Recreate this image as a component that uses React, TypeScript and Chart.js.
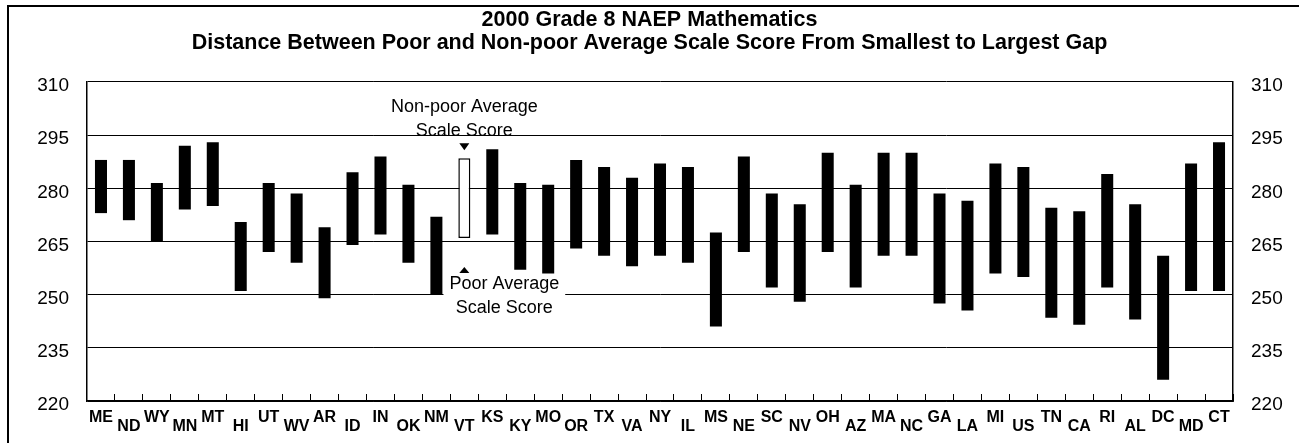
import React, { useEffect, useRef } from 'react';
import { Chart, registerables } from 'chart.js';

Chart.register(...registerables);

// ---- data ----
const states = [
  'ME', 'ND', 'WY', 'MN', 'MT', 'HI', 'UT', 'WV', 'AR', 'ID', 'IN', 'OK', 'NM', 'VT',
  'KS', 'KY', 'MO', 'OR', 'TX', 'VA', 'NY', 'IL', 'MS', 'NE', 'SC', 'NV', 'OH', 'AZ',
  'MA', 'NC', 'GA', 'LA', 'MI', 'US', 'TN', 'CA', 'RI', 'AL', 'DC', 'MD', 'CT',
];

const poorScores = [
  273, 271, 265, 274, 275, 251, 262, 259, 249, 264, 267, 259, 250, 266,
  267, 257, 256, 263, 261, 258, 261, 259, 241, 262, 252, 248, 262, 252,
  261, 261, 247.5, 245.5, 256, 255, 243.5, 241.5, 252, 243, 226, 251, 251,
];

const nonPoorScores = [
  288, 288, 281.5, 292, 293, 270.5, 281.5, 278.5, 269, 284.5, 289, 281, 272, 288.5,
  291, 281.5, 281, 288, 286, 283, 287, 286, 267.5, 289, 278.5, 275.5, 290, 281,
  290, 290, 278.5, 276.5, 287, 286, 274.5, 273.5, 284, 275.5, 261, 287, 293,
];

const yMin = 220;
const yMax = 310;
const yStep = 15;

const titleLines = [
  '2000 Grade 8 NAEP Mathematics',
  'Distance Between Poor and Non-poor Average Scale Score From Smallest to Largest Gap',
];

const exampleState = 'VT';
const nonPoorNote = ['Non-poor Average', 'Scale Score'];
const poorNote = ['Poor Average', 'Scale Score'];

const FONT = "'Liberation Sans', Arial, sans-serif";

const annotationPlugin = {
  id: 'naepAnnotations',
  beforeDraw(chart: any) {
    const ctx = chart.ctx;
    ctx.save();
    ctx.fillStyle = '#fff';
    ctx.fillRect(0, 0, chart.width, chart.height);
    ctx.strokeStyle = '#000';
    ctx.lineWidth = 2;
    ctx.beginPath();
    ctx.moveTo(8, chart.height + 2);
    ctx.lineTo(8, 6);
    ctx.lineTo(chart.width + 2, 6);
    ctx.stroke();
    ctx.restore();
  },
  afterDatasetsDraw(chart: any) {
    const ctx = chart.ctx;
    const xs = chart.scales.x;
    const ys = chart.scales.y;
    const i = states.indexOf(exampleState);
    const cx = xs.getPixelForValue(i);
    const top = ys.getPixelForValue(nonPoorScores[i]);
    const bot = ys.getPixelForValue(poorScores[i]);
    ctx.save();
    ctx.font = `18px ${FONT}`;
    ctx.textAlign = 'center';
    ctx.textBaseline = 'middle';
    ctx.fillStyle = '#000';
    ctx.fillText(nonPoorNote[0], cx, top - 51);
    ctx.fillText(nonPoorNote[1], cx, top - 27);
    // down arrow toward bar top
    ctx.beginPath();
    ctx.moveTo(cx - 5, top - 15);
    ctx.lineTo(cx + 5, top - 15);
    ctx.lineTo(cx, top - 8);
    ctx.closePath();
    ctx.fill();
    // poor note box
    const px = cx + 40;
    const w = Math.max(ctx.measureText(poorNote[0]).width, ctx.measureText(poorNote[1]).width);
    ctx.fillStyle = '#fff';
    ctx.fillRect(px - w / 2 - 6, bot + 37, w + 12, 45);
    ctx.fillStyle = '#000';
    // up arrow toward bar bottom
    ctx.beginPath();
    ctx.moveTo(cx - 5, bot + 35);
    ctx.lineTo(cx + 5, bot + 35);
    ctx.lineTo(cx, bot + 29);
    ctx.closePath();
    ctx.fill();
    ctx.fillText(poorNote[0], px, bot + 46);
    ctx.fillText(poorNote[1], px, bot + 70);
    ctx.restore();
  },
};

export default function App() {
  const ref = useRef<HTMLCanvasElement>(null);

  useEffect(() => {
    if (!ref.current) return;
    const ex = states.indexOf(exampleState);
    const yAxisCommon = {
      min: yMin,
      max: yMax,
      ticks: {
        stepSize: yStep,
        color: '#000',
        padding: 18,
        labelOffset: 4,
        font: { family: FONT, size: 19 },
      },
    };
    const chart = new Chart(ref.current, {
      type: 'bar',
      data: {
        labels: states,
        datasets: [
          {
            data: states.map((_, i) => [poorScores[i], nonPoorScores[i]]),
            backgroundColor: states.map((_, i) => (i === ex ? '#fff' : '#000')),
            borderColor: '#000',
            borderWidth: states.map((_, i) => (i === ex ? 1.5 : 0)),
            borderSkipped: false,
            barPercentage: 0.43,
            categoryPercentage: 1,
          } as any,
        ],
      },
      options: {
        animation: false,
        responsive: false,
        devicePixelRatio: 1,
        layout: { padding: { top: 0, right: 0, bottom: 0, left: 0 } },
        plugins: {
          legend: { display: false },
          tooltip: { enabled: false },
          title: {
            display: true,
            text: titleLines,
            color: '#000',
            font: { family: FONT, size: 21.5, weight: 'bold', lineHeight: 1.05 },
            padding: { top: 9, bottom: 27.8 },
          },
        },
        scales: {
          x: {
            grid: {
              display: true,
              offset: true,
              drawOnChartArea: false,
              drawTicks: true,
              tickLength: -7,
              color: '#000',
              lineWidth: 1,
            },
            border: { display: true, color: '#000', width: 1.5 },
            ticks: {
              autoSkip: false,
              maxRotation: 0,
              color: '#000',
              padding: 19.5,
              font: { family: FONT, size: 16, weight: 'bold', lineHeight: 0.5625 },
              callback: (_v: any, i: number) => (i % 2 === 0 ? states[i] : ['', states[i]]),
            },
            afterFit: (s: any) => {
              s.height = 42;
            },
          },
          y: {
            ...yAxisCommon,
            position: 'left',
            grid: { color: '#000', lineWidth: 1, drawTicks: false },
            border: { display: true, color: '#000', width: 1.5 },
            afterFit: (s: any) => {
              s.width = 87;
            },
          },
          y2: {
            ...yAxisCommon,
            position: 'right',
            grid: { drawOnChartArea: false, drawTicks: false },
            border: { display: true, color: '#000', width: 1.5 },
            afterFit: (s: any) => {
              s.width = 66;
            },
          },
        } as any,
      },
      plugins: [annotationPlugin],
    });
    return () => chart.destroy();
  }, []);

  return (
    <div style={{ position: 'fixed', left: 0, top: 0, width: 1299, height: 443, background: '#fff' }}>
      <canvas ref={ref} width={1299} height={443} style={{ display: 'block', width: 1299, height: 443 }} />
    </div>
  );
}
